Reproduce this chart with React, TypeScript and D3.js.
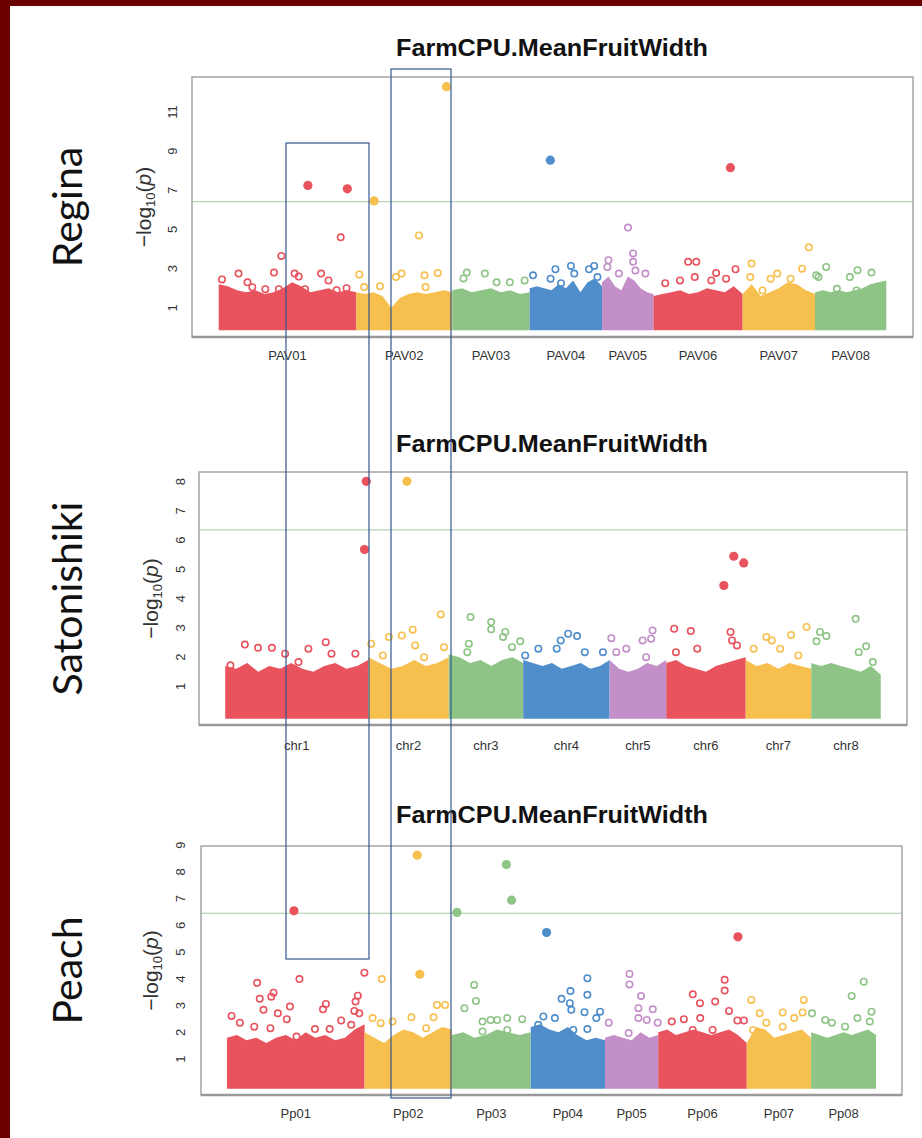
import * as d3 from 'd3'

// chromosome colours, same order in every panel
const palette = ['#e8535e', '#f7bf4e', '#8fc487', '#4f8dcb', '#c38fc8', '#e8535e', '#f7bf4e', '#8fc487']

// ---------- Regina ----------
const reginaChroms = ['PAV01', 'PAV02', 'PAV03', 'PAV04', 'PAV05', 'PAV06', 'PAV07', 'PAV08']
const reginaLengths = [54, 37.7, 30.4, 28.4, 20.2, 35, 28.4, 28]
// top of the dense cloud of points, read along each chromosome
const reginaBand = [
  [2.2, 2.1, 1.9, 1.8, 1.9, 1.7, 1.8, 2.0, 2.3, 2.1, 1.8, 1.9, 2.0, 1.8, 1.9, 1.8],
  [1.8, 1.7, 1.8, 1.6, 1.0, 1.5, 1.7, 1.8, 1.7, 1.8, 1.9, 1.8],
  [1.9, 2.0, 1.8, 1.9, 2.0, 1.8, 1.9, 1.7, 1.8],
  [2.0, 2.1, 2.0, 1.9, 2.2, 2.0, 2.4, 1.8, 2.3, 2.5, 2.1],
  [2.3, 2.6, 2.1, 1.9, 2.6, 2.4, 2.0, 1.8, 1.7],
  [1.6, 1.7, 1.8, 1.9, 1.7, 1.8, 2.0, 1.9, 1.8, 2.1, 1.7],
  [1.7, 2.2, 1.6, 1.8, 2.0, 2.3, 2.2, 1.9, 1.7],
  [1.8, 1.9, 1.8, 1.9, 1.8, 1.9, 2.0, 2.2, 2.3, 2.4],
]
// [chromosome, position (Mb), -log10(p), filled]
const reginaPoints = [
  [0, 1.3, 2.45, 0], [0, 7.8, 2.75, 0], [0, 11.3, 2.3, 0], [0, 13.2, 2.05, 0], [0, 18.3, 1.95, 0], [0, 21.7, 2.8, 0],
  [0, 23.6, 1.95, 0], [0, 24.6, 3.65, 0], [0, 29.8, 2.75, 0], [0, 31.4, 2.6, 0], [0, 33.9, 1.95, 0], [0, 35.0, 7.25, 1],
  [0, 40.2, 2.75, 0], [0, 43.1, 2.4, 0], [0, 46.3, 1.9, 0], [0, 47.9, 4.6, 0], [0, 50.2, 2.0, 0], [0, 50.5, 7.08, 1],
  [1, 1.2, 2.7, 0], [1, 3.1, 2.06, 0], [1, 7.0, 6.46, 1], [1, 9.3, 2.1, 0], [1, 15.6, 2.57, 0], [1, 17.8, 2.75, 0],
  [1, 24.6, 4.7, 0], [1, 26.8, 2.66, 0], [1, 27.2, 2.06, 0], [1, 32.0, 2.78, 0], [1, 35.4, 12.3, 1],
  [2, 4.4, 2.5, 0], [2, 5.7, 2.8, 0], [2, 12.8, 2.75, 0], [2, 17.4, 2.3, 0], [2, 22.6, 2.3, 0], [2, 28.4, 2.4, 0],
  [3, 1.3, 2.66, 0], [3, 8.1, 8.54, 1], [3, 8.2, 2.49, 0], [3, 10.1, 2.97, 0], [3, 12.3, 2.26, 0], [3, 16.2, 3.14, 0],
  [3, 17.5, 2.75, 0], [3, 23.3, 2.97, 0], [3, 25.3, 3.14, 0], [3, 26.6, 2.57, 0],
  [4, 2.1, 3.09, 0], [4, 2.5, 3.43, 0], [4, 6.6, 2.75, 0], [4, 10.2, 5.1, 0], [4, 12.2, 3.78, 0], [4, 12.2, 3.35, 0],
  [4, 13.1, 2.9, 0], [4, 17.0, 2.75, 0],
  [5, 4.6, 2.26, 0], [5, 10.4, 2.4, 0], [5, 13.6, 3.35, 0], [5, 16.2, 2.57, 0], [5, 16.8, 3.35, 0], [5, 22.7, 2.4, 0],
  [5, 24.6, 2.78, 0], [5, 28.5, 2.49, 0], [5, 30.2, 8.16, 1], [5, 32.2, 2.97, 0],
  [6, 3.0, 2.57, 0], [6, 3.5, 3.26, 0], [6, 7.8, 1.89, 0], [6, 11.0, 2.49, 0], [6, 13.6, 2.75, 0], [6, 18.8, 2.49, 0],
  [6, 23.3, 3.0, 0], [6, 26.0, 4.09, 0],
  [7, 0.5, 2.66, 0], [7, 1.4, 2.57, 0], [7, 4.4, 3.09, 0], [7, 8.6, 1.97, 0], [7, 13.7, 2.57, 0], [7, 16.3, 1.89, 0],
  [7, 16.7, 2.92, 0], [7, 22.2, 2.8, 0],
]
const reginaTicks = [1, 3, 5, 7, 9, 11]
const reginaThreshold = 6.42

// ---------- Satonishiki ----------
const satoChroms = ['chr1', 'chr2', 'chr3', 'chr4', 'chr5', 'chr6', 'chr7', 'chr8']
const satoLengths = [57.6, 32.4, 30, 34.8, 22.8, 32, 26.4, 28]
const satoBand = [
  [1.7, 1.6, 1.8, 1.5, 1.7, 1.6, 1.8, 1.6, 1.5, 1.7, 1.8, 1.6, 1.7, 1.9],
  [2.0, 1.8, 1.6, 1.7, 1.9, 1.7, 1.8, 2.0],
  [2.1, 2.0, 1.8, 1.9, 1.7, 1.9, 2.0, 1.8],
  [1.9, 1.8, 1.7, 1.8, 1.6, 1.7, 1.8, 1.6, 1.7, 1.9],
  [1.9, 1.6, 1.5, 1.6, 1.8, 1.7, 1.9],
  [1.8, 1.9, 1.7, 1.6, 1.5, 1.7, 1.8, 1.9, 2.0],
  [1.9, 1.7, 1.8, 1.6, 1.8, 1.7, 1.6],
  [1.8, 1.7, 1.8, 1.7, 1.6, 1.5, 1.7, 1.4],
]
const satoPoints = [
  [0, 56.8, 8.01, 1], [0, 56.1, 5.68, 1], [0, 40.5, 2.51, 0], [0, 7.9, 2.43, 0], [0, 13.2, 2.32, 0], [0, 18.8, 2.32, 0],
  [0, 33.5, 2.29, 0], [0, 24.1, 2.12, 0], [0, 42.8, 2.12, 0], [0, 52.4, 2.12, 0], [0, 2.1, 1.72, 0], [0, 29.5, 1.83, 0],
  [1, 15.6, 8.01, 1], [1, 29.2, 3.46, 0], [1, 17.9, 2.94, 0], [1, 13.5, 2.74, 0], [1, 8.3, 2.69, 0], [1, 18.9, 2.4, 0],
  [1, 1.2, 2.46, 0], [1, 30.5, 2.34, 0], [1, 5.9, 2.06, 0], [1, 22.5, 2.0, 0],
  [2, 8.8, 3.37, 0], [2, 17.1, 3.2, 0], [2, 17.1, 2.95, 0], [2, 22.8, 2.86, 0], [2, 21.9, 2.69, 0], [2, 28.8, 2.54, 0],
  [2, 8.1, 2.46, 0], [2, 25.5, 2.34, 0], [2, 7.5, 2.17, 0],
  [3, 18.1, 2.8, 0], [3, 21.7, 2.72, 0], [3, 15.1, 2.57, 0], [3, 6.1, 2.29, 0], [3, 13.5, 2.29, 0], [3, 0.8, 2.06, 0],
  [3, 24.8, 2.17, 0], [3, 32.1, 2.17, 0],
  [4, 17.3, 2.91, 0], [4, 0.7, 2.65, 0], [4, 13.3, 2.57, 0], [4, 16.7, 2.63, 0], [4, 6.7, 2.29, 0], [4, 2.7, 2.17, 0],
  [4, 14.7, 2.0, 0],
  [5, 27.2, 5.45, 1], [5, 31.2, 5.22, 1], [5, 23.2, 4.45, 1], [5, 3.2, 2.97, 0], [5, 9.9, 2.89, 0], [5, 25.9, 2.86, 0],
  [5, 26.5, 2.57, 0], [5, 3.9, 2.17, 0], [5, 12.5, 2.29, 0], [5, 28.5, 2.4, 0],
  [6, 24.5, 3.03, 0], [6, 18.3, 2.76, 0], [6, 8.3, 2.69, 0], [6, 10.5, 2.57, 0], [6, 3.2, 2.29, 0], [6, 13.9, 2.29, 0],
  [6, 21.2, 2.06, 0],
  [7, 17.9, 3.31, 0], [7, 3.5, 2.86, 0], [7, 6.1, 2.72, 0], [7, 2.1, 2.54, 0], [7, 22.1, 2.37, 0], [7, 19.1, 2.17, 0],
  [7, 24.8, 1.83, 0],
]
const satoTicks = [1, 2, 3, 4, 5, 6, 7, 8]
const satoThreshold = 6.35

// ---------- Peach ----------
const peachChroms = ['Pp01', 'Pp02', 'Pp03', 'Pp04', 'Pp05', 'Pp06', 'Pp07', 'Pp08']
const peachLengths = [47.85, 30.41, 27.37, 25.84, 18.5, 30.77, 22.39, 22.57]
const peachBand = [
  [1.8, 1.9, 1.7, 1.8, 1.6, 1.8, 1.9, 1.7, 2.0, 1.8, 1.9, 1.7, 1.8, 2.1, 2.3],
  [2.0, 1.8, 1.6, 1.9, 2.1, 2.0, 1.8, 2.0, 2.2, 2.1],
  [1.9, 2.0, 1.8, 1.9, 2.1, 2.0, 1.9, 2.0],
  [2.2, 2.3, 2.1, 2.0, 2.2, 1.9, 1.7, 1.8, 1.7],
  [1.8, 1.9, 1.8, 1.7, 2.0, 1.8, 1.9],
  [2.0, 2.1, 1.9, 2.0, 2.1, 2.0, 1.9, 2.0, 2.1, 1.9, 1.6],
  [1.6, 2.2, 2.1, 1.8, 1.9, 2.0, 2.1, 1.8],
  [2.0, 1.9, 1.8, 1.9, 2.0, 1.9, 2.0, 2.1, 1.9],
]
const peachPoints = [
  [0, 23.3, 6.54, 1], [0, 47.8, 4.23, 0], [0, 25.2, 3.99, 0], [0, 10.5, 3.85, 0], [0, 16.2, 3.48, 0], [0, 15.4, 3.33, 0],
  [0, 11.4, 3.25, 0], [0, 21.9, 2.96, 0], [0, 12.7, 2.84, 0], [0, 34.4, 3.06, 0], [0, 33.4, 2.86, 0], [0, 45.5, 3.37, 0],
  [0, 44.7, 3.15, 0], [0, 44.3, 2.8, 0], [0, 46.0, 2.71, 0], [0, 1.6, 2.61, 0], [0, 4.5, 2.36, 0], [0, 17.7, 2.71, 0],
  [0, 20.8, 2.49, 0], [0, 39.7, 2.44, 0], [0, 30.6, 2.12, 0], [0, 35.7, 2.12, 0], [0, 9.5, 2.21, 0], [0, 15.1, 2.15, 0],
  [0, 43.2, 2.28, 0], [0, 24.2, 1.84, 0],
  [1, 18.3, 8.62, 1], [1, 19.2, 4.17, 1], [1, 6.0, 3.99, 0], [1, 2.8, 2.53, 0], [1, 9.7, 2.4, 0], [1, 16.3, 2.56, 0],
  [1, 24.0, 2.56, 0], [1, 25.2, 3.02, 0], [1, 28.0, 3.02, 0], [1, 5.6, 2.34, 0], [1, 21.4, 2.15, 0],
  [2, 1.7, 6.48, 1], [2, 18.9, 8.27, 1], [2, 20.7, 6.94, 1], [2, 7.7, 3.77, 0], [2, 8.3, 3.17, 0], [2, 4.3, 2.9, 0],
  [2, 10.6, 2.4, 0], [2, 19.2, 2.53, 0], [2, 24.4, 2.49, 0], [2, 13.4, 2.46, 0], [2, 15.7, 2.46, 0], [2, 10.6, 2.03, 0],
  [2, 19.2, 2.09, 0],
  [3, 5.5, 5.73, 1], [3, 19.7, 4.02, 0], [3, 13.8, 3.54, 0], [3, 19.7, 3.4, 0], [3, 10.7, 3.25, 0], [3, 13.6, 3.09, 0],
  [3, 14.1, 2.84, 0], [3, 18.7, 2.75, 0], [3, 24.1, 2.77, 0], [3, 22.8, 2.53, 0], [3, 4.4, 2.59, 0], [3, 8.4, 2.53, 0],
  [3, 19.7, 2.12, 0], [3, 14.8, 2.09, 0], [3, 2.6, 2.28, 0],
  [4, 8.5, 4.18, 0], [4, 8.5, 3.79, 0], [4, 12.5, 3.36, 0], [4, 11.6, 2.9, 0], [4, 16.6, 2.86, 0], [4, 1.3, 2.36, 0],
  [4, 14.5, 2.46, 0], [4, 18.3, 2.36, 0], [4, 8.2, 1.97, 0], [4, 11.6, 2.53, 0],
  [5, 27.7, 5.57, 1], [5, 23.1, 3.96, 0], [5, 23.1, 3.56, 0], [5, 12.0, 3.42, 0], [5, 14.5, 3.09, 0], [5, 19.8, 3.15, 0],
  [5, 24.6, 2.8, 0], [5, 14.6, 2.53, 0], [5, 8.9, 2.49, 0], [5, 4.7, 2.4, 0], [5, 27.5, 2.44, 0], [5, 29.8, 2.44, 0],
  [5, 12.0, 2.09, 0], [5, 18.9, 2.09, 0],
  [6, 1.6, 3.21, 0], [6, 19.8, 3.21, 0], [6, 12.5, 2.74, 0], [6, 4.5, 2.71, 0], [6, 16.5, 2.53, 0], [6, 19.4, 2.74, 0],
  [6, 6.8, 2.36, 0], [6, 12.5, 2.21, 0], [6, 2.2, 2.09, 0],
  [7, 18.3, 3.89, 0], [7, 14.1, 3.36, 0], [7, 21.0, 2.77, 0], [7, 0.3, 2.71, 0], [7, 16.1, 2.53, 0], [7, 4.9, 2.46, 0],
  [7, 7.2, 2.36, 0], [7, 20.4, 2.4, 0], [7, 11.8, 2.21, 0],
]
const peachTicks = [1, 2, 3, 4, 5, 6, 7, 8, 9]
const peachThreshold = 6.45

const TITLE = 'FarmCPU.MeanFruitWidth'

const Manhattan = ({ side, chroms, lengths, band, points, ticks, threshold, box }) => {
  const total = d3.sum(lengths)
  const starts = lengths.map((_, i) => d3.sum(lengths.slice(0, i)))
  // R style 4% padding on both axes
  const x = d3.scaleLinear().domain([-0.04 * total, 1.04 * total]).range([box.left, box.right])
  const maxY = d3.max(points, (p) => p[2])
  const y = d3.scaleLinear().domain([-0.04 * maxY, 1.04 * maxY]).range([box.bottom, box.top])

  const area = d3
    .area()
    .x((d) => x(d[0]))
    .y0(y(0) + 3)
    .y1((d) => y(d[1]))

  const midY = (box.top + box.bottom) / 2
  const open = points.filter((p) => !p[3])
  const filled = points.filter((p) => p[3])

  return (
    <g>
      <text
        x={552}
        y={box.titleY}
        textAnchor="middle"
        fontFamily="Liberation Sans, Arial, sans-serif"
        fontWeight="bold"
        fontSize={23}
        textLength={312}
        lengthAdjust="spacingAndGlyphs"
        fill="#111"
      >
        {TITLE}
      </text>
      <text
        transform={`translate(82,${midY}) rotate(-90)`}
        textAnchor="middle"
        fontFamily="Lato, Open Sans, sans-serif"
        fontSize={41}
        fill="#111"
      >
        {side}
      </text>

      {/* dense cloud of non significant markers */}
      {band.map((env, i) => {
        const pts = env.map((v, j) => [starts[i] + (j / (env.length - 1)) * lengths[i], v])
        return <path key={'b' + i} d={area(pts)} fill={palette[i]} />
      })}

      <line x1={box.left} x2={box.right} y1={y(threshold)} y2={y(threshold)} stroke="#a9c6a8" strokeWidth={1} />

      {open.map((p, k) => (
        <circle
          key={'o' + k}
          cx={x(starts[p[0]] + p[1])}
          cy={y(p[2])}
          r={3.2}
          fill="none"
          stroke={palette[p[0]]}
          strokeWidth={1.6}
        />
      ))}
      {filled.map((p, k) => (
        <circle key={'f' + k} cx={x(starts[p[0]] + p[1])} cy={y(p[2])} r={4.6} fill={palette[p[0]]} />
      ))}

      <rect
        x={box.left}
        y={box.top}
        width={box.right - box.left}
        height={box.bottom - box.top}
        fill="none"
        stroke="#a4a4a4"
        strokeWidth={1.5}
      />
      <line x1={box.left} x2={box.right} y1={box.bottom} y2={box.bottom} stroke="#999" strokeWidth={2.5} />

      {ticks.map((t) => (
        <text
          key={'t' + t}
          transform={`translate(${box.tickX},${y(t)}) rotate(-90)`}
          textAnchor="middle"
          fontFamily="Liberation Sans, Arial, sans-serif"
          fontSize={13}
          fill="#333"
        >
          {t}
        </text>
      ))}
      <text
        transform={`translate(${box.labelX},${midY}) rotate(-90)`}
        textAnchor="middle"
        fontFamily="Liberation Sans, Arial, sans-serif"
        fontSize={21}
        fill="#333"
      >
        −log
        <tspan fontSize={13} dy={4}>
          10
        </tspan>
        <tspan dy={-4}>(</tspan>
        <tspan fontStyle="italic">p</tspan>)
      </text>

      {chroms.map((c, i) => (
        <text
          key={c}
          x={x(starts[i] + lengths[i] / 2)}
          y={box.xLabY}
          textAnchor="middle"
          fontFamily="Liberation Sans, Arial, sans-serif"
          fontSize={13}
          fill="#333"
        >
          {c}
        </text>
      ))}
    </g>
  )
}

export default function App() {
  return (
    <svg width={922} height={1138} style={{ position: 'absolute', left: 0, top: 0, background: '#fff' }}>
      <rect x={0} y={0} width={922} height={1138} fill="#fff" />
      <rect x={0} y={0} width={10} height={1138} fill="#6b0000" />
      <rect x={0} y={0} width={922} height={6} fill="#6b0000" />

      <Manhattan
        side="Regina"
        chroms={reginaChroms}
        lengths={reginaLengths}
        band={reginaBand}
        points={reginaPoints}
        ticks={reginaTicks}
        threshold={reginaThreshold}
        box={{ left: 192, right: 913, top: 77, bottom: 337, titleY: 56, tickX: 177, labelX: 151, xLabY: 360 }}
      />
      <Manhattan
        side="Satonishiki"
        chroms={satoChroms}
        lengths={satoLengths}
        band={satoBand}
        points={satoPoints}
        ticks={satoTicks}
        threshold={satoThreshold}
        box={{ left: 199, right: 907, top: 472, bottom: 725, titleY: 452, tickX: 185, labelX: 158, xLabY: 750 }}
      />
      <Manhattan
        side="Peach"
        chroms={peachChroms}
        lengths={peachLengths}
        band={peachBand}
        points={peachPoints}
        ticks={peachTicks}
        threshold={peachThreshold}
        box={{ left: 201, right: 902, top: 846, bottom: 1095, titleY: 823, tickX: 185, labelX: 158, xLabY: 1118 }}
      />

      {/* highlight boxes drawn over the three panels */}
      <rect x={286} y={143} width={83} height={816} fill="none" stroke="#34558f" strokeWidth={1.2} />
      <rect x={391} y={69} width={60} height={1029} fill="none" stroke="#34558f" strokeWidth={1.2} />
    </svg>
  )
}
